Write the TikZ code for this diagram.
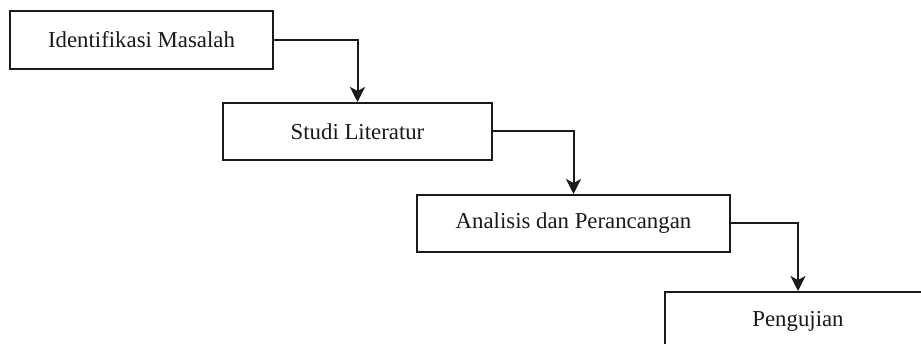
\documentclass[tikz,border=0pt]{standalone}
\usepackage{fontspec}
\setmainfont{Liberation Serif}
\usetikzlibrary{arrows.meta}
\definecolor{ink}{HTML}{1A1A1A}
\begin{document}
\begin{tikzpicture}[x=1pt,y=-1pt,
  stepbox/.style={draw=ink,line width=2pt,rectangle,inner sep=0pt,
    font=\fontsize{22.8}{27}\selectfont,text=ink},
  flow/.style={draw=ink,line width=2pt,-{Stealth[length=15pt,width=15pt,inset=4pt]}}]
\useasboundingbox (0,0) rectangle (921,344);
\clip (0,0) rectangle (921,344);
\fill[white] (0,0) rectangle (921,344);
\node[stepbox,minimum width=263pt,minimum height=58pt] (b1) at (141.5,40) {Identifikasi Masalah};
\node[stepbox,minimum width=269pt,minimum height=57pt] (b2) at (357.5,131.5) {Studi Literatur};
\node[stepbox,minimum width=313pt,minimum height=57pt] (b3) at (573.5,223.5) {Analisis dan Perancangan};
\node[stepbox,minimum width=266pt,minimum height=58pt] (b4) at (798,321) {Pengujian};
\draw[flow] (b1.east) -| (b2.north);
\draw[flow] (b2.east) -| (b3.north);
\draw[flow] (b3.east) -| (b4.north);
\end{tikzpicture}
\end{document}
